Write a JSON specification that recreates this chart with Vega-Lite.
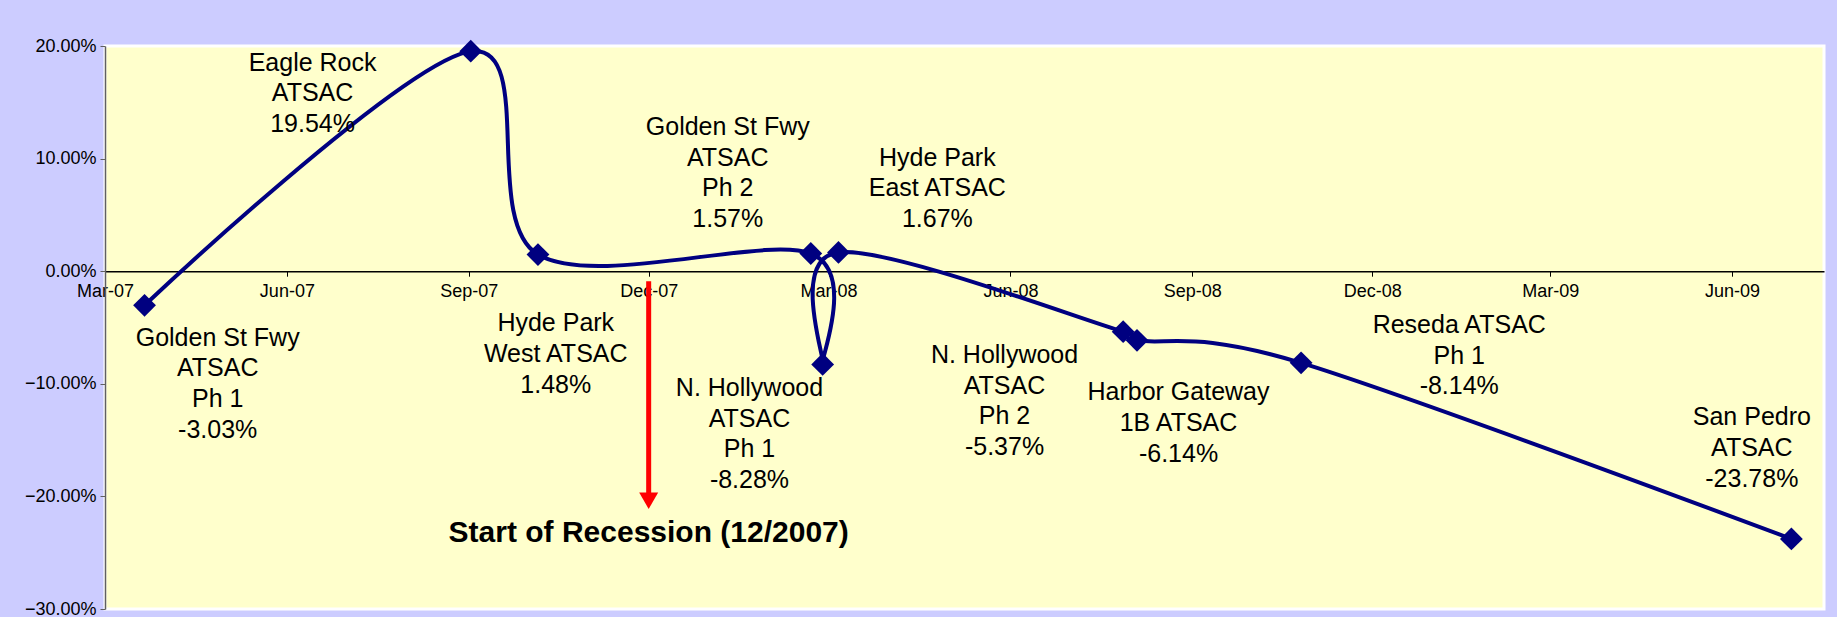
{
  "$schema": "https://vega.github.io/schema/vega-lite/v6.json",
  "width": 1719,
  "height": 563,
  "autosize": {"type": "none"},
  "padding": {"left": 105, "top": 46, "right": 13, "bottom": 8},
  "background": "#CCCCFF",
  "view": {"fill": "#FFFFCC", "stroke": "#FFFFFF", "strokeWidth": 3},
  "config": {"font": "Liberation Sans"},
  "datasets": {
    "projects": [
      {"project": "Golden St Fwy ATSAC Ph 1", "date": "2007-03-21", "change": -0.0303, "label": "Golden St Fwy\nATSAC\nPh 1\n-3.03%", "labelDate": "2007-04-27", "labelValue": -0.0485},
      {"project": "Eagle Rock ATSAC", "date": "2007-09-02", "change": 0.1954, "label": "Eagle Rock\nATSAC\n19.54%", "labelDate": "2007-06-14", "labelValue": 0.1957},
      {"project": "Hyde Park West ATSAC", "date": "2007-10-06", "change": 0.0148, "label": "Hyde Park\nWest ATSAC\n1.48%", "labelDate": "2007-10-15", "labelValue": -0.0357},
      {"project": "Golden St Fwy ATSAC Ph 2", "date": "2008-02-21", "change": 0.0157, "label": "Golden St Fwy\nATSAC\nPh 2\n1.57%", "labelDate": "2008-01-10", "labelValue": 0.1388},
      {"project": "N. Hollywood ATSAC Ph 1", "date": "2008-02-27", "change": -0.0828, "label": "N. Hollywood\nATSAC\nPh 1\n-8.28%", "labelDate": "2008-01-21", "labelValue": -0.093},
      {"project": "Hyde Park East ATSAC", "date": "2008-03-06", "change": 0.0167, "label": "Hyde Park\nEast ATSAC\n1.67%", "labelDate": "2008-04-25", "labelValue": 0.1113},
      {"project": "N. Hollywood ATSAC Ph 2", "date": "2008-07-28", "change": -0.0537, "label": "N. Hollywood\nATSAC\nPh 2\n-5.37%", "labelDate": "2008-05-29", "labelValue": -0.0637},
      {"project": "Harbor Gateway 1B ATSAC", "date": "2008-08-04", "change": -0.0614, "label": "Harbor Gateway\n1B ATSAC\n-6.14%", "labelDate": "2008-08-25", "labelValue": -0.097},
      {"project": "Reseda ATSAC Ph 1", "date": "2008-10-26", "change": -0.0814, "label": "Reseda ATSAC\nPh 1\n-8.14%", "labelDate": "2009-01-14", "labelValue": -0.0373},
      {"project": "San Pedro ATSAC", "date": "2009-07-01", "change": -0.2378, "label": "San Pedro\nATSAC\n-23.78%", "labelDate": "2009-06-11", "labelValue": -0.1192}
    ],
    "recession": [
      {"date": "2007-12-01", "top": -0.009, "bottom": -0.198, "tip": -0.2039, "label": "Start of Recession (12/2007)", "labelValue": -0.219}
    ]
  },
  "layer": [
    {
      "data": {"name": "projects"},
      "mark": {"type": "line", "interpolate": "cardinal", "color": "#000080", "strokeWidth": 4},
      "encoding": {
        "x": {
          "field": "date", "type": "temporal", "title": null,
          "scale": {"type": "utc", "domain": [{"year": 2007, "month": 3, "date": 1, "utc": true}, {"year": 2009, "month": 7, "date": 17, "hours": 12, "utc": true}]},
          "axis": {
            "orient": "bottom", "offset": -337.8, "grid": false,
            "values": [
              {"year": 2007, "month": 3, "date": 1, "utc": true},
              {"year": 2007, "month": 6, "date": 1, "utc": true},
              {"year": 2007, "month": 9, "date": 1, "utc": true},
              {"year": 2007, "month": 12, "date": 1, "utc": true},
              {"year": 2008, "month": 3, "date": 1, "utc": true},
              {"year": 2008, "month": 6, "date": 1, "utc": true},
              {"year": 2008, "month": 9, "date": 1, "utc": true},
              {"year": 2008, "month": 12, "date": 1, "utc": true},
              {"year": 2009, "month": 3, "date": 1, "utc": true},
              {"year": 2009, "month": 6, "date": 1, "utc": true}
            ],
            "labelExpr": "utcFormat(datum.value, '%b-%y')",
            "domainColor": "#000000", "domainWidth": 1.5,
            "tickColor": "#000000", "tickSize": 5, "tickWidth": 1,
            "labelFontSize": 18, "labelColor": "#000000", "labelPadding": 6,
            "labelFlush": false, "labelOverlap": false
          }
        },
        "y": {
          "field": "change", "type": "quantitative", "title": null,
          "scale": {"domain": [-0.3, 0.2], "nice": false, "zero": false},
          "axis": {
            "values": [-0.3, -0.2, -0.1, 0, 0.1, 0.2], "format": ".2%", "grid": false,
            "domainColor": "#606060", "domainWidth": 1.5,
            "tickColor": "#606060", "tickSize": 5,
            "labelFontSize": 18, "labelColor": "#000000", "labelPadding": 4
          }
        }
      }
    },
    {
      "data": {"name": "projects"},
      "mark": {"type": "point", "shape": "diamond", "filled": true, "size": 520, "color": "#000080", "opacity": 1},
      "encoding": {
        "x": {"field": "date", "type": "temporal"},
        "y": {"field": "change", "type": "quantitative"}
      }
    },
    {
      "data": {"name": "projects"},
      "mark": {"type": "text", "align": "center", "baseline": "top", "fontSize": 25, "lineHeight": 30.6, "lineBreak": "\n", "color": "#000000"},
      "encoding": {
        "x": {"field": "labelDate", "type": "temporal"},
        "y": {"field": "labelValue", "type": "quantitative"},
        "text": {"field": "label"}
      }
    },
    {
      "data": {"name": "recession"},
      "mark": {"type": "rule", "color": "#FF0000", "strokeWidth": 5},
      "encoding": {
        "x": {"field": "date", "type": "temporal"},
        "y": {"field": "top", "type": "quantitative"},
        "y2": {"field": "bottom"}
      }
    },
    {
      "data": {"name": "recession"},
      "mark": {"type": "point", "shape": "triangle-down", "filled": true, "size": 361, "color": "#FF0000", "opacity": 1},
      "encoding": {
        "x": {"field": "date", "type": "temporal"},
        "y": {"field": "tip", "type": "quantitative"}
      }
    },
    {
      "data": {"name": "recession"},
      "mark": {"type": "text", "align": "center", "baseline": "top", "fontSize": 30, "fontWeight": "bold", "color": "#000000"},
      "encoding": {
        "x": {"field": "date", "type": "temporal"},
        "y": {"field": "labelValue", "type": "quantitative"},
        "text": {"field": "label"}
      }
    }
  ]
}
